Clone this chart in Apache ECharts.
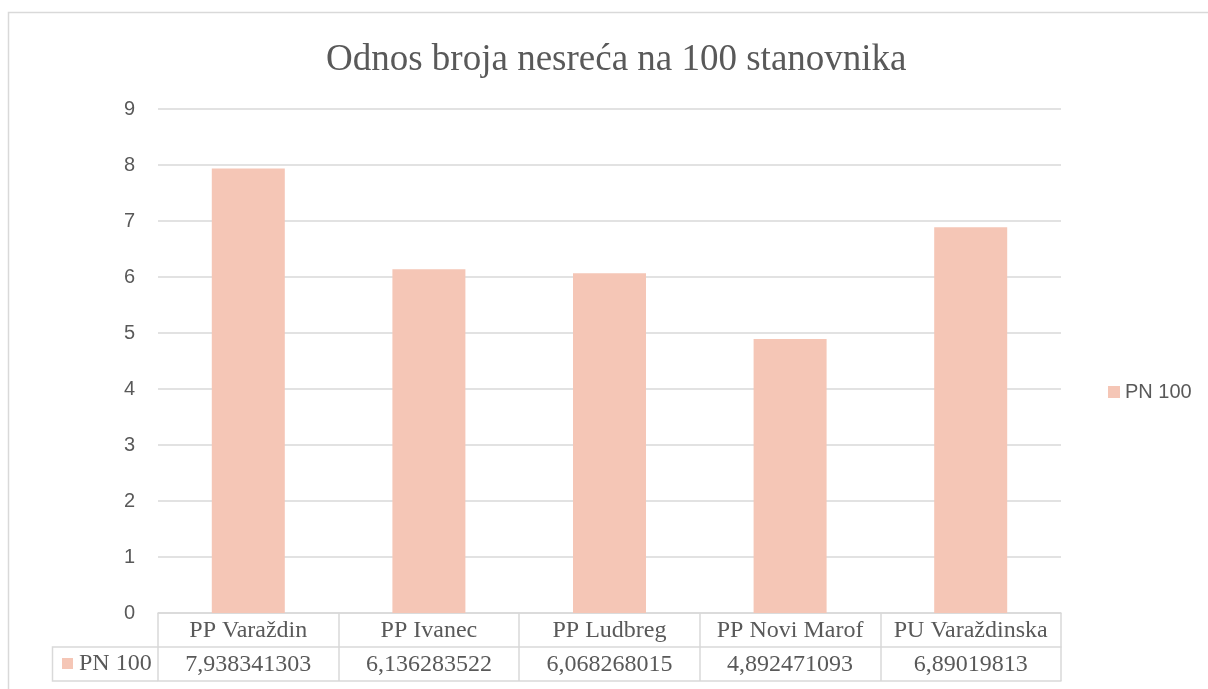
<!DOCTYPE html>
<html>
<head>
<meta charset="utf-8">
<script src="https://cdn.jsdelivr.net/npm/echarts@6/dist/echarts.min.js"></script>
<style>
  html, body { margin: 0; padding: 0; background: #fff; }
  #chart { width: 1208px; height: 689px; }
</style>
</head>
<body>
<div id="chart"></div>
<script>
// chart data
const categories = ['PP Varaždin', 'PP Ivanec', 'PP Ludbreg', 'PP Novi Marof', 'PU Varaždinska']
const pn100 = [7.938341303, 6.136283522, 6.068268015, 4.892471093, 6.89019813]
const pn100Labels = ['7,938341303', '6,136283522', '6,068268015', '4,892471093', '6,89019813']
const seriesName = 'PN 100'

const grey = '#595959'
const line = '#D9D9D9'
const serif = '"Liberation Serif", "Times New Roman", serif'
const sans = '"Liberation Sans", Arial, sans-serif'

let myChart = echarts.init(document.getElementById('chart'))
let option = {
    animation: false,
    title: {
        text: 'Odnos broja nesreća na 100 stanovnika',
        left: 321,
        top: 37,
        textStyle: { fontFamily: serif, fontSize: 37, fontWeight: 'normal', color: grey }
    },
    legend: {
        data: [seriesName],
        left: 1103,
        top: 377,
        icon: 'rect',
        itemWidth: 12,
        itemHeight: 12,
        textStyle: { fontFamily: sans, fontSize: 20, color: grey }
    },
    grid: { left: 158, right: 147, top: 109, bottom: 76 },
    xAxis: [
        {   // header row of the data table
            type: 'category',
            data: categories,
            axisLine: { lineStyle: { color: line, width: 1.5 } },
            axisTick: { show: true, interval: 0, length: 68, lineStyle: { color: line, width: 1.5 } },
            axisLabel: { interval: 0, hideOverlap: false, margin: 6, fontFamily: serif, fontSize: 24, color: grey }
        },
        {   // values row
            type: 'category',
            data: pn100Labels,
            position: 'bottom',
            offset: 34,
            axisLine: { lineStyle: { color: line, width: 1.5 } },
            axisTick: { show: false },
            axisLabel: { interval: 0, hideOverlap: false, margin: 6, fontFamily: serif, fontSize: 24, color: grey }
        },
        {   // bottom border of the table
            type: 'category',
            data: categories,
            position: 'bottom',
            offset: 68,
            axisLine: { lineStyle: { color: line, width: 1.5 } },
            axisTick: { show: false },
            axisLabel: { show: false }
        }
    ],
    yAxis: {
        type: 'value',
        min: 0,
        max: 9,
        interval: 1,
        axisLine: { show: false },
        axisTick: { show: false },
        splitLine: { lineStyle: { color: line, width: 1.5 } },
        axisLabel: { margin: 23, fontFamily: sans, fontSize: 20, color: grey }
    },
    series: [{
        name: seriesName,
        type: 'bar',
        data: pn100,
        barWidth: 73,
        xAxisIndex: 0,
        itemStyle: { color: '#F5C6B6' }
    }],
    graphic: [
        {   // chart frame
            type: 'rect',
            shape: { x: 8.5, y: 12.5, width: 1220, height: 700 },
            style: { fill: 'none', stroke: line, lineWidth: 1.5 },
            silent: true
        },
        {   // legend key cell of the table
            type: 'polyline',
            shape: { points: [[158, 647], [52.5, 647], [52.5, 681], [158, 681]] },
            style: { fill: 'none', stroke: line, lineWidth: 1.5 },
            silent: true
        },
        {
            type: 'rect',
            shape: { x: 62, y: 658, width: 11, height: 11 },
            style: { fill: '#F5C6B6' },
            silent: true
        },
        {
            type: 'text',
            x: 79, y: 652,
            style: { text: seriesName, font: '24px ' + serif, fill: grey }
        }
    ]
}
myChart.setOption(option)
</script>
</body>
</html>
